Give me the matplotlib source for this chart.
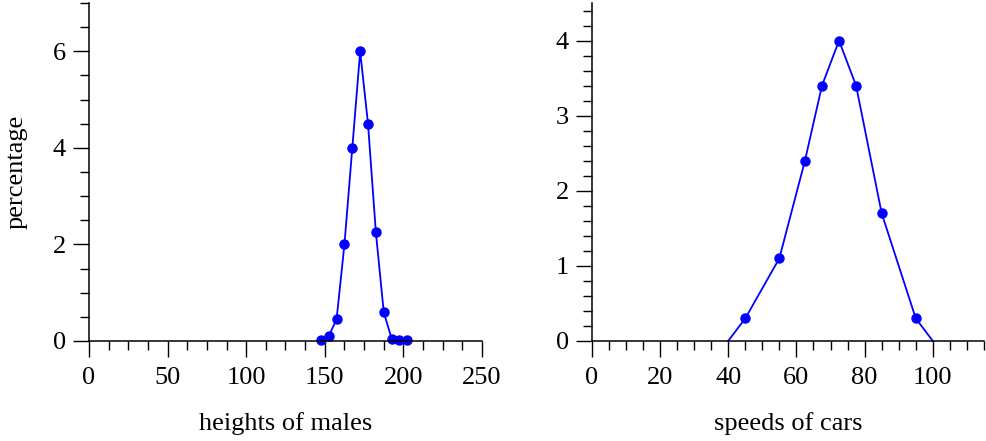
import matplotlib
matplotlib.use('Agg')
import matplotlib.pyplot as plt
from matplotlib.ticker import MultipleLocator

plt.rcParams['font.family'] = ['Liberation Serif', 'DejaVu Serif']
plt.rcParams['font.size'] = 19

# heights of males (cm) and percentage
heights = [147.5, 152.5, 157.5, 162.5, 167.5, 172.5, 177.5, 182.5, 187.5, 192.5, 197.5, 202.5]
height_pct = [0.02, 0.1, 0.45, 2.0, 4.0, 6.0, 4.5, 2.25, 0.6, 0.05, 0.01, 0.01]

# speeds of cars and percentage (endpoints have no marker)
speeds = [40, 45, 55, 62.5, 67.5, 72.5, 77.5, 85, 95, 100]
speed_pct = [0, 0.3, 1.1, 2.4, 3.4, 4.0, 3.4, 1.7, 0.3, 0]

fig = plt.figure(figsize=(9.86, 4.41), dpi=100)
ax1 = fig.add_axes([0.0903, 0.2268, 0.3985, 0.7662])
ax2 = fig.add_axes([0.6001, 0.2268, 0.3979, 0.7662])


def style(ax, xmaj, xmin, ymaj, ymin):
    for s in ['top', 'right']:
        ax.spines[s].set_visible(False)
    for s in ['left', 'bottom']:
        ax.spines[s].set_linewidth(1.1)
    ax.xaxis.set_major_locator(MultipleLocator(xmaj))
    ax.xaxis.set_minor_locator(MultipleLocator(xmin))
    ax.yaxis.set_major_locator(MultipleLocator(ymaj))
    ax.yaxis.set_minor_locator(MultipleLocator(ymin))
    ax.tick_params(which='major', direction='out', length=11.5, width=1.0, pad=5)
    ax.tick_params(which='minor', direction='out', length=6.5, width=1.0)
    ax.tick_params(axis='x', which='major', pad=7)


ax1.plot(heights, height_pct, color='blue', lw=1.3, marker='o', ms=6.5, clip_on=False)
ax1.set_xlim(0, 250)
ax1.set_ylim(0, 7)
style(ax1, 50, 12.5, 2, 0.5)
ax1.set_xlabel('heights of males', labelpad=17)
ax1.set_ylabel('percentage', labelpad=18)

ax2.plot(speeds, speed_pct, color='blue', lw=1.3, marker='o', ms=6.5,
         markevery=list(range(1, len(speeds) - 1)), clip_on=False)
ax2.set_xlim(0, 115)
ax2.set_ylim(0, 4.5)
style(ax2, 20, 5, 1, 0.2)
ax2.set_xlabel('speeds of cars', labelpad=17)

fig.savefig('out.png', dpi=100)
